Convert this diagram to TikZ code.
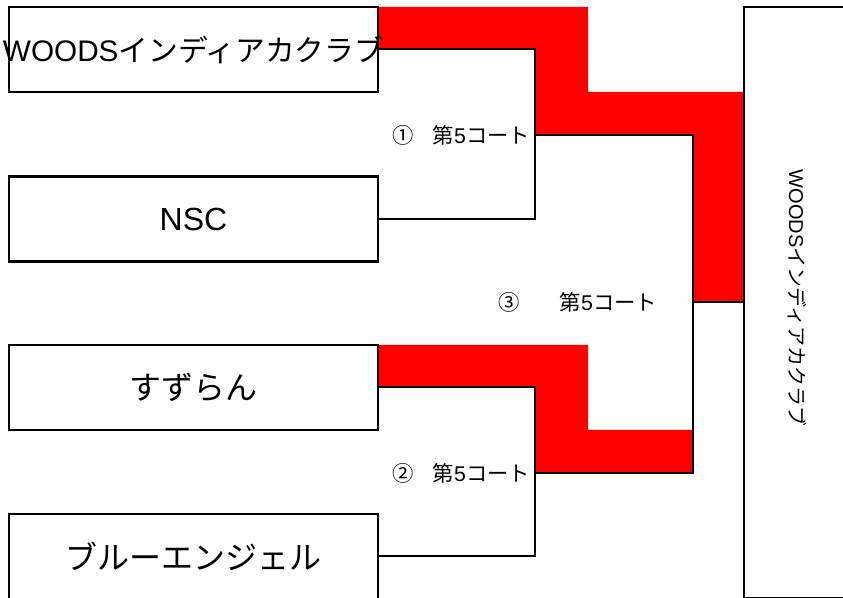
\documentclass[tikz,border=0pt]{standalone}
\usepackage{fontspec}
\setmainfont{Noto Sans CJK JP}
\newfontfamily\latn{Liberation Sans}
\usetikzlibrary{positioning,calc}

\begin{document}
\begin{tikzpicture}[x=0.75pt,y=-0.75pt,line width=1.5pt,
    team/.style={draw,line width=2pt,minimum width=276.75pt,minimum height=63.75pt,
      inner sep=0pt,font=\fontsize{24}{24}\selectfont},
    court/.style={inner sep=0pt,font=\fontsize{16}{16}\selectfont},
    win/.style={fill=red,draw=none}]
      \useasboundingbox (0,0) rectangle (843,598);
      \clip (0,0) rectangle (843,598);

      % winning paths
      \fill[win] (378,7) -- (588,7) -- (588,92) -- (744,92) -- (744,302)
        -- (693,302) -- (693,135) -- (535,135) -- (535,49) -- (378,49) -- cycle;
      \fill[win] (378,345) -- (588,345) -- (588,430) -- (693,430) -- (693,473)
        -- (535,473) -- (535,387) -- (378,387) -- cycle;

      \node[team] (woods) at (193.5,49.5)
        {\makebox[0pt]{\fontsize{22.3}{22.3}\selectfont{\latn WOODS}インディアカクラブ}};
      \node[team] (nsc) at (193.5,219) {\latn NSC};
      \node[team] (suzuran) at (193.5,387.5) {すずらん};
      \node[team] (blue) at (193.5,556.5) {ブルーエンジェル};
      \node[draw,line width=2pt,minimum width=102pt,minimum height=443.25pt,inner sep=0pt]
        (final) at (812,302.5) {};
      \node[court,rotate=-90,font=\fontsize{15}{15}\selectfont] (champ) at (797,298)
        {{\latn WOODS}インディアカクラブ};

      \coordinate (m1) at (535,135);
      \coordinate (m2) at (535,473);
      \coordinate (m3) at (693,302);
      \draw (woods.east) -| (m1) |- (nsc.east);
      \draw (suzuran.east) -| (m2) |- (blue.east);
      \draw (m1) -| (m3) |- (m2);
      \draw (m3) -- (m3 -| final.west);

      \node[court,anchor=east] (c1) at (531,135) {①\hspace{0.9em}第{\latn 5}コート};
      \node[court,anchor=east] (c2) at (531,473) {②\hspace{0.9em}第{\latn 5}コート};
      \node[court,anchor=west] (c3) at (497,302) {③\hspace{1.9em}第{\latn 5}コート};
    \end{tikzpicture}
\end{document}
